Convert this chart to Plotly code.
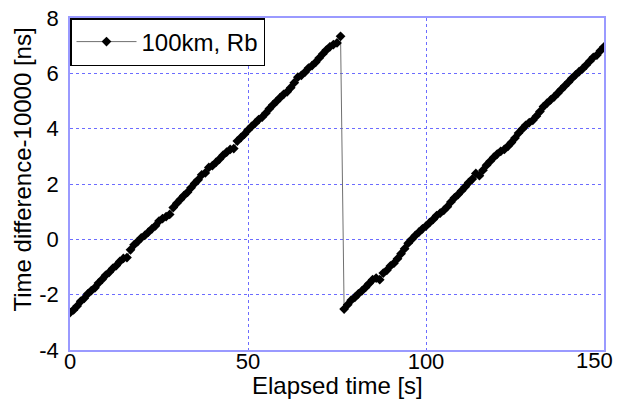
import plotly.graph_objects as go

# Elapsed time [s]
t_seg1 = list(range(0, 77))
t_seg2 = list(range(77, 151))

# Time difference - 10000 [ns]
y_seg1 = [
    -2.65, -2.55, -2.41, -2.24, -2.13, -1.97, -1.85, -1.75, -1.58, -1.45,
    -1.30, -1.19, -1.05, -0.95, -0.80, -0.69, -0.66, -0.38, -0.20, -0.08,
    0.05, 0.14, 0.26, 0.38, 0.49, 0.66, 0.75, 0.82, 0.90, 1.15,
    1.30, 1.44, 1.58, 1.70, 1.86, 2.02, 2.15, 2.33, 2.40, 2.60,
    2.66, 2.78, 2.90, 3.04, 3.15, 3.25, 3.28, 3.55, 3.68, 3.80,
    3.95, 4.08, 4.20, 4.33, 4.42, 4.56, 4.72, 4.86, 4.99, 5.12,
    5.24, 5.33, 5.48, 5.66, 5.86, 5.93, 6.04, 6.19, 6.28, 6.40,
    6.55, 6.70, 6.84, 6.96, 7.04, 7.10, 7.34,
]
y_seg2 = [
    -2.52, -2.36, -2.20, -2.10, -1.97, -1.86, -1.74, -1.60, -1.46, -1.40,
    -1.46, -1.22, -1.12, -0.96, -0.86, -0.70, -0.52, -0.34, -0.14, 0.00,
    0.14, 0.26, 0.38, 0.48, 0.60, 0.72, 0.86, 0.95, 1.05, 1.18,
    1.35, 1.50, 1.62, 1.76, 1.90, 2.05, 2.18, 2.38, 2.30, 2.50,
    2.68, 2.82, 2.96, 3.08, 3.18, 3.25, 3.36, 3.50, 3.66, 3.84,
    3.98, 4.12, 4.22, 4.30, 4.45, 4.62, 4.80, 4.92, 5.04, 5.15,
    5.28, 5.42, 5.55, 5.68, 5.82, 5.94, 6.06, 6.17, 6.30, 6.44,
    6.58, 6.66, 6.82, 6.96,
]

t_all = t_seg1 + t_seg2
y_all = y_seg1 + y_seg2

series_name = "100km, Rb"
x_title = "Elapsed time [s]"
y_title = "Time difference-10000 [ns]"
x_ticks = [0, 50, 100, 150]
y_ticks = [-4, -2, 0, 2, 4, 6, 8]

FONT = "Liberation Sans, Arial, sans-serif"
FRAME = "#9a9aff"
GRID = "#6c6cff"
FS = 24
TFS = 22

fig = go.Figure()
fig.add_trace(go.Scatter(
    x=t_all, y=y_all, mode="lines+markers", name=series_name,
    line=dict(color="#707070", width=1),
    marker=dict(symbol="diamond", size=7.5, color="black"),
))

# the last x tick label is drawn as an annotation nudged left so it is not clipped
last_tick = x_ticks[-1]
x_ticktext = [str(v) for v in x_ticks[:-1]] + [""]

# page body has an 8px margin, so the figure is sized/offset to compensate
fig.update_layout(
    width=616, height=392,
    margin=dict(l=62, r=20, t=10, b=50, autoexpand=False),
    paper_bgcolor="white", plot_bgcolor="white",
    font=dict(family=FONT, size=FS, color="black"),
    showlegend=True,
    legend=dict(x=0, y=1, xanchor="left", yanchor="top",
                bgcolor="white", bordercolor="black", borderwidth=1.5,
                font=dict(size=FS), itemwidth=60,
                tracegroupgap=0),
    annotations=[
        dict(text=x_title, xref="paper", yref="paper", x=0.5, y=-0.108,
             xanchor="center", yanchor="middle", showarrow=False,
             font=dict(size=FS)),
        dict(text=y_title, xref="paper", yref="paper", x=-0.089, y=0.545,
             xanchor="center", yanchor="middle", showarrow=False,
             textangle=-90, font=dict(size=FS)),
        dict(text=str(last_tick), xref="x", yref="paper", x=last_tick, y=0,
             xanchor="right", yanchor="middle", xshift=11, yshift=-10,
             showarrow=False, font=dict(size=TFS)),
    ],
)
fig.update_xaxes(
    range=[0, 150], tickvals=x_ticks, ticktext=x_ticktext,
    showline=True, linecolor=FRAME, linewidth=1.5, mirror=True,
    showgrid=True, gridcolor=GRID, griddash="dot", gridwidth=1,
    zeroline=False, ticks="", tickfont=dict(size=TFS), automargin=False,
    ticklabelstandoff=-9, ticklabeloverflow="allow",
)
fig.update_yaxes(
    range=[-4, 8], tickvals=y_ticks, ticktext=[str(v) for v in y_ticks],
    showline=True, linecolor=FRAME, linewidth=1.5, mirror=True,
    showgrid=True, gridcolor=GRID, griddash="dot", gridwidth=1,
    zeroline=False, ticks="", tickfont=dict(size=TFS), automargin=False,
    ticklabelstandoff=5, ticklabeloverflow="allow",
)

fig.write_html("out.html")
